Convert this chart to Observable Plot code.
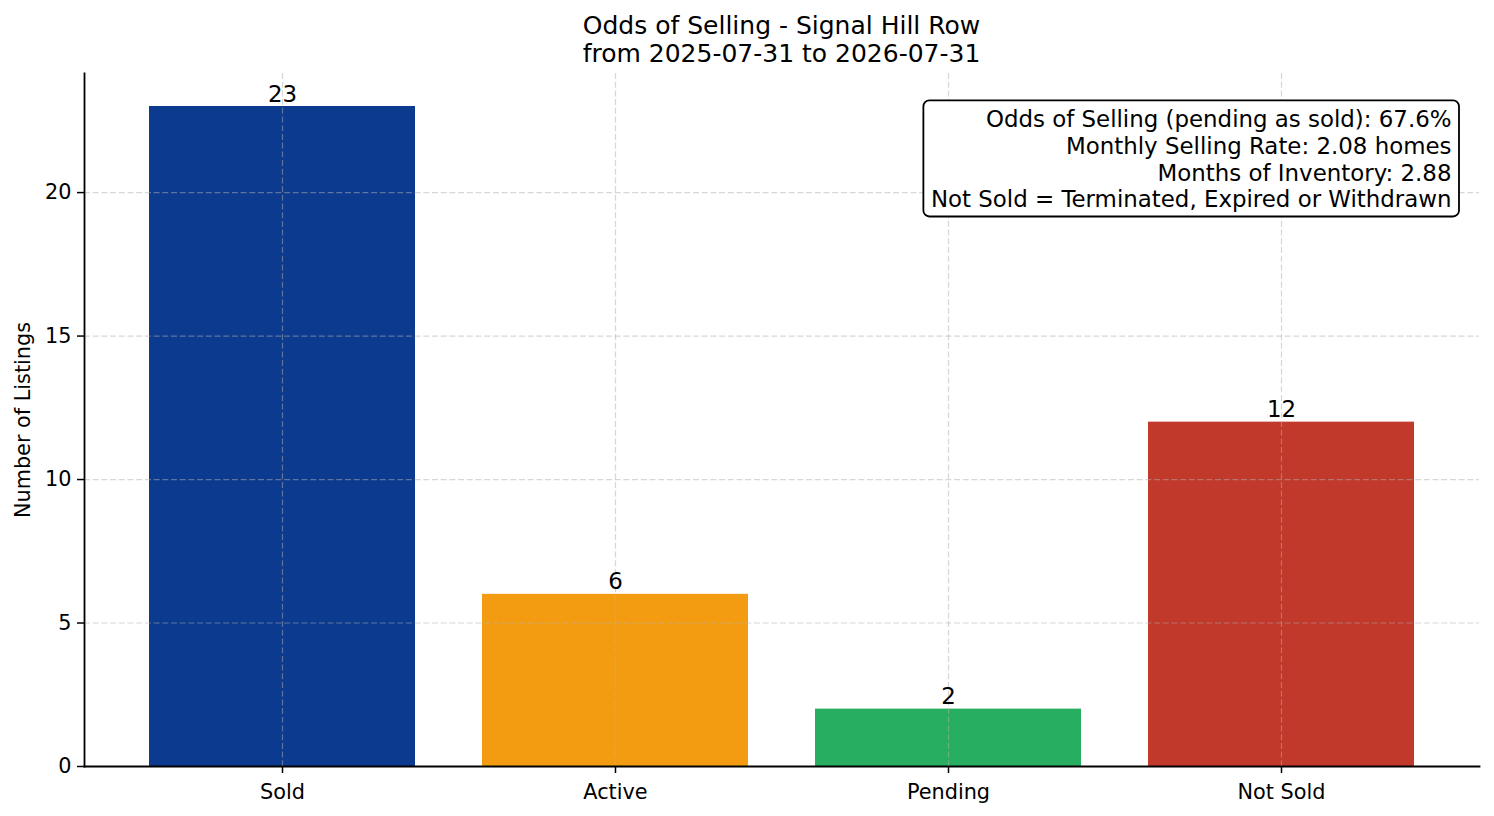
<!DOCTYPE html>
<html>
<head>
<meta charset="utf-8">
<script src="https://cdn.jsdelivr.net/npm/d3@7"></script>
<script src="https://cdn.jsdelivr.net/npm/@observablehq/plot@0.6"></script>
<style>
  html, body { margin: 0; padding: 0; background: white; }
  #wrap { position: relative; width: 1494px; height: 816px; overflow: hidden; font-family: "DejaVu Sans", sans-serif; }
  #title { position: absolute; left: 84px; width: 1395px; top: 12px; text-align: center; font-size: 25px; line-height: 28px; color: #000; z-index: 2; }
</style>
</head>
<body>
<div id="wrap">
  <div id="title"></div>
</div>
<script>
const titleLines = ["Odds of Selling - Signal Hill Row", "from 2025-07-31 to 2026-07-31"];
const categories = ["Sold", "Active", "Pending", "Not Sold"];
const counts = [23, 6, 2, 12];
const barColors = ["#0b3a8e", "#f39c12", "#27ae60", "#c0392b"];
const yTicks = [0, 5, 10, 15, 20];
const yLabel = "Number of Listings";
const statsLines = [
  "Odds of Selling (pending as sold): 67.6%",
  "Monthly Selling Rate: 2.08 homes",
  "Months of Inventory: 2.88",
  "Not Sold = Terminated, Expired or Withdrawn"
];

const data = categories.map((c, i) => ({category: c, count: counts[i], color: barColors[i]}));

document.getElementById("title").innerHTML = titleLines.join("<br>");

const gridStyle = {stroke: "#b0b0b0", strokeOpacity: 0.5, strokeDasharray: "6,2.7", strokeWidth: 1.2};

const chart = Plot.plot({
  width: 1494,
  height: 816,
  marginLeft: 84,
  marginRight: 15,
  marginTop: 73,
  marginBottom: 50,
  style: {fontFamily: "DejaVu Sans", fontSize: "20.8px", color: "#000", background: "white"},
  x: {domain: categories, paddingInner: 0.2, paddingOuter: 0.19, label: null},
  y: {domain: [0, 24.15], label: null},
  marks: [
    Plot.barY(data, {x: "category", y: "count", fill: "color"}),
    Plot.gridY(yTicks, gridStyle),
    Plot.gridX(categories, gridStyle),
    Plot.axisY(yTicks, {tickSize: 7, tickPadding: 6, label: null, stroke: "#000", fill: "#000", strokeWidth: 1.5}),
    Plot.axisX({tickSize: 7, tickPadding: 11, label: null, stroke: "#000", fill: "#000", strokeWidth: 1.5}),
    Plot.frame({anchor: "left", stroke: "#000", strokeWidth: 1.8}),
    Plot.frame({anchor: "bottom", stroke: "#000", strokeWidth: 1.8}),
    Plot.text(data, {x: "category", y: "count", text: d => String(d.count), lineAnchor: "bottom", dy: -5, fill: "#000", fontSize: 22.9}),
    Plot.text([yLabel], {text: d => d, frameAnchor: "left", textAnchor: "middle", rotate: -90, dx: -61, fill: "#000", fontSize: 20.8}),
    Plot.text([statsLines.join("\n")], {text: d => d, frameAnchor: "top-right", textAnchor: "end", lineAnchor: "top", dx: -28, dy: 35, lineHeight: 1.165, fill: "#000", fontSize: 22.9})
  ]
});

document.getElementById("wrap").append(chart);

// draw the rounded annotation box around the stats text
const svg = chart.tagName.toLowerCase() === "svg" ? chart : chart.querySelector("svg");
const statsText = Array.from(svg.querySelectorAll("text")).find(t => t.textContent.includes(statsLines[0].slice(0, 15)));
if (statsText) {
  const sr = svg.getBoundingClientRect();
  const br = statsText.getBoundingClientRect();
  const padX = 7.5, padTop = 6, padBottom = 4;
  const rect = document.createElementNS("http://www.w3.org/2000/svg", "rect");
  rect.setAttribute("x", br.left - sr.left - padX);
  rect.setAttribute("y", br.top - sr.top - padTop);
  rect.setAttribute("width", br.width + 2 * padX);
  rect.setAttribute("height", br.height + padTop + padBottom);
  rect.setAttribute("rx", 6);
  rect.setAttribute("ry", 6);
  rect.setAttribute("fill", "white");
  rect.setAttribute("stroke", "#000");
  rect.setAttribute("stroke-width", 1.8);
  const host = statsText.closest("g") || svg;
  host.parentNode.insertBefore(rect, host);
}
</script>
</body>
</html>
